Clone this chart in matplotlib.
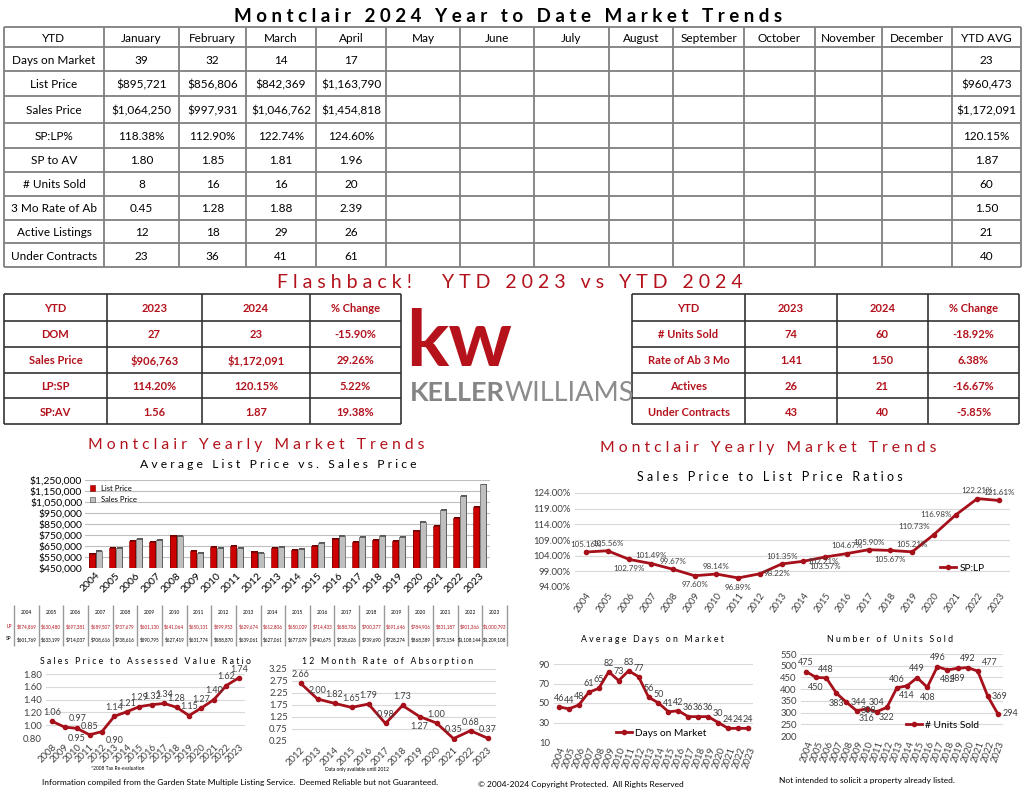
import numpy as np
import matplotlib
matplotlib.use("Agg")
import matplotlib.pyplot as plt

plt.rcParams['font.family'] = ['Lato', 'DejaVu Sans']

W, H = 1024, 791
RED = '#b3121c'
LINE_RED = '#a5101a'
GRID = '#d9d9d9'
TXT = '#404040'

# ---- top table (YTD 2024) ----
months = ["January", "February", "March", "April", "May", "June", "July",
          "August", "September", "October", "November", "December"]
row_labels = ["Days on Market", "List Price", "Sales Price", "SP:LP%", "SP to AV",
              "# Units Sold", "3 Mo Rate of Ab", "Active Listings", "Under Contracts"]
dom_2024 = ["39", "32", "14", "17"]
list_2024 = ["$895,721", "$856,806", "$842,369", "$1,163,790"]
sales_2024 = ["$1,064,250", "$997,931", "$1,046,762", "$1,454,818"]
splp_2024 = ["118.38%", "112.90%", "122.74%", "124.60%"]
spav_2024 = ["1.80", "1.85", "1.81", "1.96"]
units_2024 = ["8", "16", "16", "20"]
rate_2024 = ["0.45", "1.28", "1.88", "2.39"]
active_2024 = ["12", "18", "29", "26"]
under_2024 = ["23", "36", "41", "61"]
ytd_avg = ["23", "$960,473", "$1,172,091", "120.15%", "1.87", "60", "1.50", "21", "40"]

# ---- flashback tables ----
fb_header = ["YTD", "2023", "2024", "% Change"]
fb_left = [["DOM", "27", "23", "-15.90%"],
           ["Sales Price", "$906,763", "$1,172,091", "29.26%"],
           ["LP:SP", "114.20%", "120.15%", "5.22%"],
           ["SP:AV", "1.56", "1.87", "19.38%"]]
fb_right = [["# Units Sold", "74", "60", "-18.92%"],
            ["Rate of Ab 3 Mo", "1.41", "1.50", "6.38%"],
            ["Actives", "26", "21", "-16.67%"],
            ["Under Contracts", "43", "40", "-5.85%"]]

# ---- yearly data ----
years = [str(y) for y in range(2004, 2024)]
list_price = [574869, 630480, 697381, 689507, 737679, 601130, 641064, 650131, 599953, 629674,
              612806, 650029, 714433, 688706, 700377, 691646, 784906, 831187, 901366, 1000793]
sales_price = [601769, 633199, 714037, 708616, 738616, 590795, 627419, 631774, 588870, 639061,
               627061, 677079, 740675, 728626, 739690, 728274, 868389, 973154, 1108144, 1209108]

spav_years = [str(y) for y in range(2008, 2024)]
spav = [1.06, 0.97, 0.95, 0.85, 0.90, 1.14, 1.21, 1.29, 1.32, 1.34, 1.28, 1.15, 1.27, 1.40, 1.62, 1.74]

absorb_years = [str(y) for y in range(2012, 2024)]
absorb = [2.66, 2.00, 1.82, 1.65, 1.79, 0.98, 1.73, 1.27, 1.00, 0.35, 0.68, 0.37]

splp = [105.16, 105.56, 102.79, 101.49, 99.67, 97.60, 98.14, 96.89, 98.22, 101.35,
        102.21, 103.57, 104.67, 105.90, 105.67, 105.21, 110.73, 116.98, 122.21, 121.61]
days_market = [46, 44, 48, 61, 65, 82, 73, 83, 77, 56, 50, 41, 42, 36, 36, 36, 30, 24, 24, 24]
units_sold = [475, 450, 448, 383, 344, 308, 316, 304, 322, 406, 414, 449, 408, 496, 482, 489,
              492, 477, 369, 294]


def box(l, t, r, b):
    return [l / W, 1 - b / H, (r - l) / W, (b - t) / H]


def spaced(s):
    return " ".join(s)


fig = plt.figure(figsize=(W / 100, H / 100), dpi=100)
bg = fig.add_axes([0, 0, 1, 1])
bg.set_xlim(0, W)
bg.set_ylim(H, 0)
bg.axis('off')


def draw_table(col_x, row_y, rows, color, size, weight, line_color, lw):
    for x in col_x:
        bg.vlines(x, row_y[0], row_y[-1], color=line_color, lw=lw)
    for y in row_y:
        bg.hlines(y, col_x[0], col_x[-1], color=line_color, lw=lw)
    for r, row in enumerate(rows):
        yc = (row_y[r] + row_y[r + 1]) / 2
        for c, txt in enumerate(row):
            if not txt:
                continue
            xc = (col_x[c] + col_x[c + 1]) / 2
            bg.text(xc, yc + 1, txt, ha='center', va='center', fontsize=size,
                    color=color, weight=weight)


# title
bg.text(508, 16, spaced("Montclair 2024 Year to Date Market Trends"), ha='center', va='center',
        fontsize=13.5, weight='bold', color='black')

# top table
top_cols = [4, 104, 179, 246, 316, 386, 460, 534, 609, 673, 744, 815, 882, 952, 1021]
top_rows = [27, 47, 71, 96, 123, 148, 172, 196, 220, 243, 267]
month_vals = [dom_2024, list_2024, sales_2024, splp_2024, spav_2024, units_2024,
              rate_2024, active_2024, under_2024]
top_table = [["YTD"] + months + ["YTD AVG"]]
for lab, vals, avg in zip(row_labels, month_vals, ytd_avg):
    top_table.append([lab] + vals + [""] * (12 - len(vals)) + [avg])
draw_table(top_cols, top_rows, top_table, 'black', 8.5, 'normal', '#7f7f7f', 1.3)

# flashback
bg.text(510, 282, spaced("Flashback!") + "      " + spaced("YTD 2023 vs YTD 2024"),
        ha='center', va='center', fontsize=14, color=RED)
fb_rows = [294, 321, 347, 373, 398, 424]
draw_table([4, 107, 202, 310, 401], fb_rows, [fb_header] + fb_left, RED, 8, 'bold', '#333333', 1.2)
draw_table([632, 745, 837, 928, 1019], fb_rows, [fb_header] + fb_right, RED, 8, 'bold', '#333333', 1.2)

# KW logo
bg.text(406, 366, "kw", fontsize=57, weight='bold', color='#b5121b', ha='left', va='baseline')
bg.text(505, 401, "KELLER", fontsize=19.5, weight='bold', color='#858585', ha='right', va='baseline')
bg.text(505, 401, "WILLIAMS", fontsize=19.5, weight='normal', color='#8c8c8c', ha='left', va='baseline')

# section titles
bg.text(256, 445, spaced("Montclair Yearly Market Trends"), ha='center', va='center',
        fontsize=11.3, color=RED)
bg.text(768, 448, spaced("Montclair Yearly Market Trends"), ha='center', va='center',
        fontsize=11.3, color=RED)
bg.text(278, 465, spaced("Average List Price vs. Sales Price"), ha='center', va='center',
        fontsize=8.7, color='black')
bg.text(770, 477, spaced("Sales Price to List Price Ratios"), ha='center', va='center',
        fontsize=9, color='black')
bg.text(145, 662, spaced("Sales Price to Assessed Value Ratio"), ha='center', va='center',
        fontsize=6.2, color='black')
bg.text(388, 662, spaced("12 Month Rate of Absorption"), ha='center', va='center',
        fontsize=6.2, color='black')
bg.text(652, 639, spaced("Average Days on Market"), ha='center', va='center',
        fontsize=6.3, color='black')
bg.text(890, 639, spaced("Number of Units Sold"), ha='center', va='center',
        fontsize=6.3, color='black')

# ---- bar chart ----
axb = fig.add_axes(box(85, 480, 490, 568))
xb = np.arange(len(years))
depth = 9000
axb.bar(xb - 0.13, list_price, 0.3, bottom=depth, color='#6e0000', zorder=2)
axb.bar(xb + 0.21, sales_price, 0.3, bottom=depth, color='#5a5a5a', zorder=2)
axb.bar(xb - 0.17, list_price, 0.3, color='#cc0000', edgecolor='#7a0000', lw=0.4,
        zorder=3, label='List Price')
axb.bar(xb + 0.17, sales_price, 0.3, color='#bfbfbf', edgecolor='#404040', lw=0.4,
        zorder=3, label='Sales Price')
axb.set_xlim(-0.5, len(years) - 0.5)
axb.set_ylim(450000, 1250000)
yt = np.arange(450000, 1250001, 100000)
axb.set_yticks(yt)
axb.set_yticklabels(["${:,.0f}".format(v) for v in yt])
axb.set_xticks(xb)
axb.set_xticklabels(years, rotation=45, ha='right', rotation_mode='anchor')
axb.grid(axis='y', color='#bfbfbf', lw=0.8)
axb.set_axisbelow(True)
for s in axb.spines.values():
    s.set_visible(False)
axb.tick_params(length=0, labelsize=7.5, colors='black', pad=2)
axb.legend(loc='upper left', fontsize=5.5, frameon=False, handlelength=0.7,
           handleheight=0.7, borderaxespad=0.2, labelspacing=0.6)

# small price table under bar chart
tcol = [14 + 24.65 * i for i in range(len(years) + 1)]
for x in tcol:
    bg.vlines(x, 605, 646, color='#9a9a9a', lw=1)
bg.text(9, 626, "LP", fontsize=3.5, color=RED, ha='center', va='center')
bg.text(9, 639, "SP", fontsize=3.5, color='black', ha='center', va='center')
for i, (yr, lpv, spv) in enumerate(zip(years, list_price, sales_price)):
    xc = (tcol[i] + tcol[i + 1]) / 2
    bg.text(xc, 613, yr, fontsize=3.5, ha='center', va='center')
    bg.text(xc, 626, "${:,}".format(lpv), fontsize=3.3, color=RED, ha='center', va='center')
    bg.text(xc, 639, "${:,}".format(spv), fontsize=3.3, ha='center', va='center')

OFFS = {'a': ((0, 3), 'center', 'bottom'), 'b': ((0, -4), 'center', 'top'),
        'r': ((3, 0), 'left', 'center'), 'l': ((-3, 0), 'right', 'center'),
        'ar': ((3, 3), 'left', 'bottom'), 'al': ((-3, 3), 'right', 'bottom'),
        'br': ((3, -3), 'left', 'top')}


def line_chart(rect, yrs, vals, ylim, yticks, fmt, lab_fmt, pos, rot, lsize=6.5,
               legend=None, anchor=None):
    ax = fig.add_axes(box(*rect))
    x = np.arange(len(yrs))
    ax.plot(x, vals, color=LINE_RED, lw=2, marker='o', ms=3, label=legend, zorder=3)
    ax.set_xlim(-0.5, len(yrs) - 0.5)
    ax.set_ylim(*ylim)
    ax.set_yticks(yticks)
    ax.set_yticklabels([fmt(t) for t in yticks])
    ax.set_xticks(x)
    ax.set_xticklabels(yrs, rotation=rot, ha='right', rotation_mode='anchor')
    ax.grid(axis='y', color=GRID, lw=0.8)
    ax.set_axisbelow(True)
    for s in ax.spines.values():
        s.set_visible(False)
    ax.tick_params(length=0, labelsize=6.8, colors=TXT, pad=3)
    for xi, v, p in zip(x, vals, pos):
        off, ha, va = OFFS[p]
        ax.annotate(lab_fmt(v), (xi, v), xytext=off, textcoords='offset points',
                    ha=ha, va=va, fontsize=lsize, color=TXT)
    if legend:
        ax.legend(loc='center left', bbox_to_anchor=anchor, fontsize=7.3, frameon=False,
                  handlelength=1.6, borderaxespad=0, handletextpad=0.3)
    return ax


line_chart((46, 674, 245, 738), spav_years, spav, (0.8, 1.8), np.arange(0.8, 1.81, 0.2),
           lambda t: "%.2f" % t, lambda v: "%.2f" % v,
           ['a', 'ar', 'b', 'a', 'br', 'a', 'a', 'a', 'a', 'a', 'a', 'a', 'a', 'a', 'a', 'a'], 45)

line_chart((292, 669, 496, 741), absorb_years, absorb, (0.25, 3.25), np.arange(0.25, 3.26, 0.5),
           lambda t: "%.2f" % t, lambda v: "%.2f" % v,
           ['a', 'a', 'a', 'a', 'a', 'a', 'a', 'b', 'a', 'a', 'a', 'a'], 45)

line_chart((575, 493, 1010, 587), years, splp, (94, 124), np.arange(94, 124.1, 5),
           lambda t: "%.2f%%" % t, lambda v: "%.2f%%" % v,
           ['a', 'a', 'b', 'a', 'a', 'b', 'a', 'b', 'r', 'a', 'r', 'b', 'a', 'a', 'b', 'a',
            'al', 'l', 'a', 'a'], 55, lsize=5.8, legend='SP:LP', anchor=(0.83, 0.2))

line_chart((554, 664, 753, 742), years, days_market, (10, 90), np.arange(10, 91, 20),
           lambda t: "%d" % t, lambda v: "%d" % v, ['a'] * len(years), 70,
           legend='Days on Market', anchor=(0.29, 0.115))

line_chart((801, 654, 1003, 736), years, units_sold, (200, 550), np.arange(200, 551, 50),
           lambda t: "%d" % t, lambda v: "%d" % v,
           ['a', 'b', 'a', 'b', 'r', 'r', 'b', 'a', 'b', 'a', 'b', 'a', 'b', 'a', 'b', 'b',
            'a', 'ar', 'r', 'r'], 70, legend='# Units Sold', anchor=(0.5, 0.134))

# footnotes
bg.text(118, 769, "*2008 Tax Re-evaluation", fontsize=3.5, ha='center', va='center')
bg.text(357, 769, "Data only available until 2012", fontsize=3.5, ha='center', va='center')
bg.text(42, 782, "Information compiled from the Garden State Multiple Listing Service.  "
        "Deemed Reliable but not Guaranteed.", fontsize=6, ha='left', va='center')
bg.text(478, 785, "\u00a9 2004-2024 Copyright Protected.  All Rights Reserved", fontsize=6,
        ha='left', va='center')
bg.text(867, 781, "Not intended to solicit a property already listed.", fontsize=6,
        ha='center', va='center')

fig.savefig("out.png", dpi=100, facecolor='white')
